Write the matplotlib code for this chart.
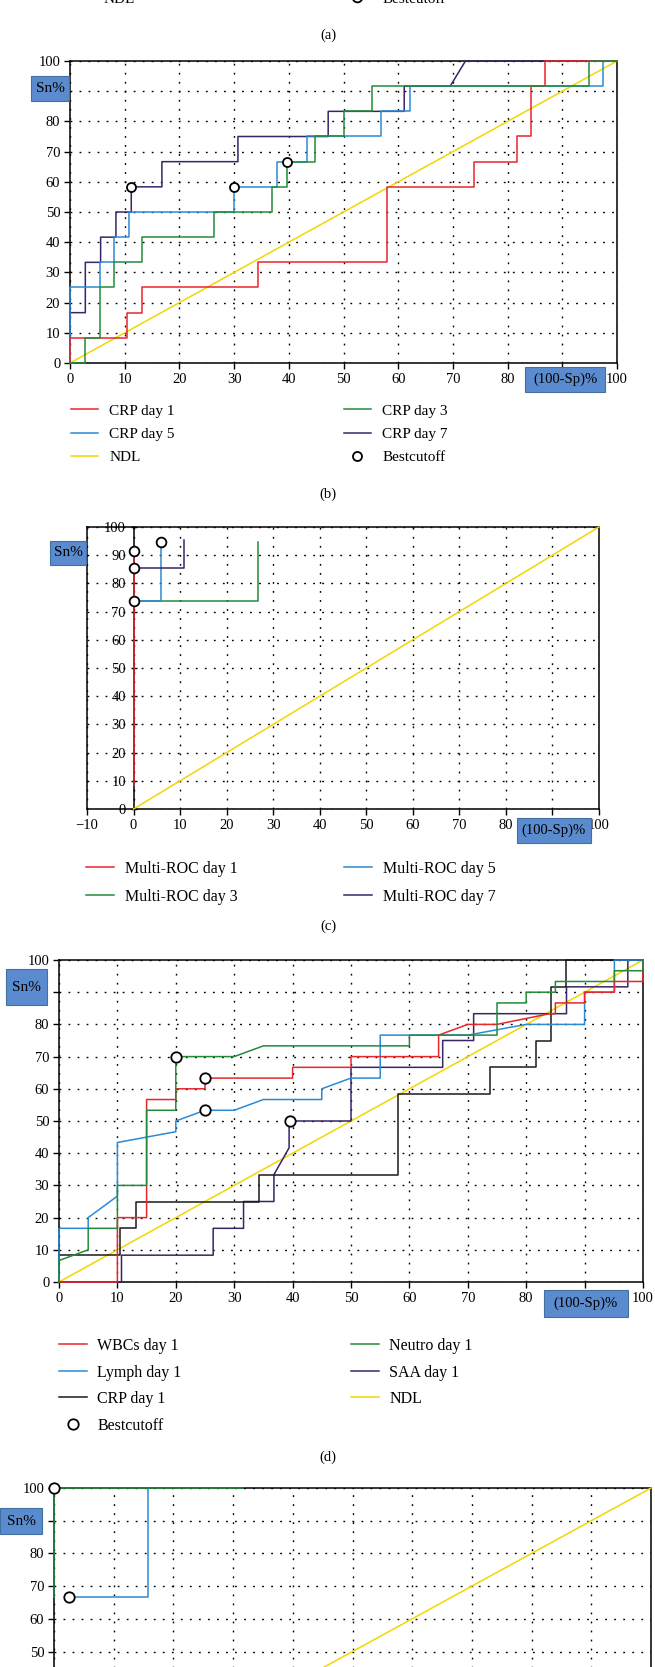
import matplotlib.pyplot as plt
from matplotlib.lines import Line2D
from matplotlib.patches import Rectangle

plt.rcParams['font.family'] = ['Liberation Serif', 'DejaVu Serif']
plt.rcParams['lines.scale_dashes'] = False

W, H = 655, 1667

RED = '#e8262b'
GREEN = '#238b3b'
BLUE = '#2b8ad6'
PURPLE = '#3a2468'
YELLOW = '#f2d700'
BLACK = '#1a1a1a'
BOX = '#5b8bcf'
BOX_EDGE = '#44709f'

# ROC points (100-Sp %, Sn %)
ndl_x = [0, 100]
ndl_y = [0, 100]

# (b) CRP by day
crp1_x = [0, 0, 10.5, 10.5, 13.2, 13.2, 34.3, 34.3, 58.0, 58.0, 73.8, 73.8, 81.7, 81.7, 84.3, 84.3, 86.9, 86.9, 100]
crp1_y = [0, 8.33, 8.33, 16.67, 16.67, 25, 25, 33.33, 33.33, 58.33, 58.33, 66.67, 66.67, 75, 75, 91.67, 91.67, 100, 100]
crp3_x = [0, 2.7, 2.7, 5.4, 5.4, 8.0, 8.0, 13.2, 13.2, 26.3, 26.3, 36.9, 36.9, 39.6, 39.6, 44.8, 44.8, 50.1, 50.1, 55.3, 55.3, 94.8, 94.8, 100]
crp3_y = [0, 0, 8.33, 8.33, 25, 25, 33.33, 33.33, 41.67, 41.67, 50, 50, 58.33, 58.33, 66.67, 66.67, 75, 75, 83.33, 83.33, 91.67, 91.67, 100, 100]
crp5_x = [0, 0, 5.4, 5.4, 8.0, 8.0, 10.8, 10.8, 29.9, 29.9, 37.9, 37.9, 43.3, 43.3, 56.8, 56.8, 62.2, 62.2, 97.4, 97.4, 100]
crp5_y = [0, 25, 25, 33.33, 33.33, 41.67, 41.67, 50, 50, 58.33, 58.33, 66.67, 66.67, 75, 75, 83.33, 83.33, 91.67, 91.67, 100, 100]
crp7_x = [0, 0, 2.8, 2.8, 5.6, 5.6, 8.4, 8.4, 11.2, 11.2, 16.8, 16.8, 30.7, 30.7, 47.2, 47.2, 61.1, 61.1, 69.5, 72.3, 100]
crp7_y = [0, 16.67, 16.67, 33.33, 33.33, 41.67, 41.67, 50, 50, 58.33, 58.33, 66.67, 66.67, 75, 75, 83.33, 83.33, 91.67, 91.67, 100, 100]
b_best_x = [11.2, 29.9, 39.6]
b_best_y = [58.33, 58.33, 66.67]

# (c) Multi-ROC by day
mroc1_x = [0, 0]
mroc1_y = [8.5, 91.5]
mroc3_x = [0, 26.7, 26.7]
mroc3_y = [73.7, 73.7, 94.7]
mroc5_x = [0, 5.9, 5.9]
mroc5_y = [73.7, 73.7, 94.7]
mroc7_x = [0, 10.9, 10.9]
mroc7_y = [85.5, 85.5, 95.3]
c_best_x = [0, 0, 0, 5.9]
c_best_y = [91.5, 85.5, 73.7, 94.7]

# (d) day 1 markers
wbc_x = [0, 10, 10, 15, 15, 20, 20, 25, 25, 40, 40, 50, 50, 65, 65, 70, 75, 84, 85, 85, 90, 90, 95.1, 95.1, 100, 100, 100]
wbc_y = [0, 0, 20, 20, 56.67, 56.67, 60, 60, 63.33, 63.33, 66.67, 66.67, 70, 70, 76.67, 80, 80, 83.33, 83.33, 86.67, 86.67, 90, 90, 93.33, 93.33, 96.67, 100]
neu_x = [0, 0, 5, 5, 10, 10, 15, 15, 20, 20, 30, 35, 60, 60, 75, 75, 80, 80, 85, 85, 95.1, 95.1, 100, 100]
neu_y = [0, 6.67, 10, 16.67, 16.67, 30, 30, 53.33, 53.33, 70, 70, 73.33, 73.33, 76.67, 76.67, 86.67, 86.67, 90, 90, 93.33, 93.33, 96.67, 96.67, 100]
lym_x = [0, 0, 5, 5, 10, 10, 20, 20, 25, 30, 35, 45, 45, 50, 55, 55, 70, 80, 90, 90, 95.1, 95.1, 100]
lym_y = [0, 16.67, 16.67, 20, 26.67, 43.33, 46.67, 50, 53.33, 53.33, 56.67, 56.67, 60, 63.33, 63.33, 76.67, 76.67, 80, 80, 90, 90, 100, 100]
saa_x = [0, 10.7, 10.7, 26.4, 26.4, 31.6, 31.6, 36.8, 36.8, 39.4, 39.4, 50, 50, 65.7, 65.7, 71, 71, 86.9, 86.9, 97.4, 97.4, 100]
saa_y = [0, 0, 8.33, 8.33, 16.67, 16.67, 25, 25, 33.33, 41.67, 50, 50, 66.67, 66.67, 75, 75, 83.33, 83.33, 91.67, 91.67, 100, 100]
d_best_x = [20, 25, 25, 39.5]
d_best_y = [70, 63.33, 53.33, 50]

# (e) only the top part is in view
e_green_x = [0, 0, 31.6]
e_green_y = [66.7, 100, 100]
e_blue_x = [2.5, 15.7, 15.7]
e_blue_y = [66.7, 66.7, 100]
e_best_x = [0, 2.5]
e_best_y = [100, 66.7]

fig = plt.figure(figsize=(W / 100, H / 100), dpi=100)


def fx(px):
    return px / W


def fy(py):
    return 1 - py / H


def add_axes(left, top, right, bottom):
    return fig.add_axes([fx(left), fy(bottom), (right - left) / W, (bottom - top) / H])


def setup(ax, xmin=0):
    ax.set_xlim(xmin, 100)
    ax.set_ylim(0, 100)
    ax.set_xticks(range(xmin, 101, 10))
    ax.set_yticks(range(0, 101, 10))
    ax.grid(True, color='black', linestyle=(0, (1.3, 5.2)), linewidth=1.0)
    ax.set_axisbelow(True)
    for s in ax.spines.values():
        s.set_linewidth(1.1)
    ax.tick_params(direction='out', length=4, width=1, labelsize=10.5, pad=3)


def curve(ax, x, y, color, label):
    return ax.plot(x, y, color=color, lw=1.1, label=label, zorder=3, clip_on=False)[0]


def best(ax, x, y, ms=7):
    return ax.plot(x, y, 'o', ms=ms, mfc='white', mec='black', mew=1.3,
                   label='Bestcutoff', zorder=4, clip_on=False)[0]


def legend_col(ax, handles, left, top, fs=11, spacing=0.6, pad=0.75):
    leg = ax.legend(handles=handles, loc='upper left', bbox_to_anchor=(fx(left), fy(top)),
                    bbox_transform=fig.transFigure, frameon=False, fontsize=fs,
                    borderpad=0, borderaxespad=0, handlelength=1.75,
                    handletextpad=pad, labelspacing=spacing, numpoints=1)
    ax.add_artist(leg)
    ax.legend_ = None


def blue_box(left, top, right, bottom, text, fs=11):
    fig.add_artist(Rectangle((fx(left), fy(bottom)), (right - left) / W, (bottom - top) / H,
                             transform=fig.transFigure, facecolor=BOX, edgecolor=BOX_EDGE,
                             lw=0.8, zorder=5))
    fig.text(fx((left + right) / 2), fy((top + bottom) / 2), text, ha='center',
             va='center', fontsize=fs, zorder=6)


# remnant of panel (a) legend at the very top
fig.legend(handles=[Line2D([], [], color=YELLOW, lw=1.1)], labels=['NDL'],
           loc='upper left', bbox_to_anchor=(fx(65), fy(-8)), frameon=False, fontsize=11,
           borderpad=0, borderaxespad=0, handlelength=1.75, handletextpad=0.75)
fig.legend(handles=[Line2D([], [], ls='none', marker='o', ms=7, mfc='white', mec='black', mew=1.3)],
           labels=['Bestcutoff'], loc='upper left', bbox_to_anchor=(fx(344), fy(-8)),
           frameon=False, fontsize=11, borderpad=0, borderaxespad=0, handlelength=1.75,
           handletextpad=0.75, numpoints=1)
fig.text(fx(328), fy(35), '(a)', ha='center', va='center', fontsize=10.5)

# ---- (b)
ax = add_axes(70, 61, 617, 363)
setup(ax)
n = curve(ax, ndl_x, ndl_y, YELLOW, 'NDL')
p7 = curve(ax, crp7_x, crp7_y, PURPLE, 'CRP day 7')
p5 = curve(ax, crp5_x, crp5_y, BLUE, 'CRP day 5')
p1 = curve(ax, crp1_x, crp1_y, RED, 'CRP day 1')
p3 = curve(ax, crp3_x, crp3_y, GREEN, 'CRP day 3')
bc = best(ax, b_best_x, b_best_y, ms=6.5)
legend_col(ax, [p1, p5, n], 71, 404, spacing=0.62)
legend_col(ax, [p3, p7, bc], 344, 404, spacing=0.62)
blue_box(31, 76, 69, 101, 'Sn%')
blue_box(525, 367, 605, 392, '(100-Sp)%', fs=10.5)
fig.text(fx(328), fy(494), '(b)', ha='center', va='center', fontsize=10.5)

# ---- (c)
ax = add_axes(87, 527, 599, 809)
setup(ax, xmin=-10)
ax.spines['left'].set_position(('data', 0))
ax.axvline(-10, color='black', lw=1.1, clip_on=False, zorder=2.5)
ax.tick_params(axis='y', direction='inout', length=5, pad=3)
curve(ax, ndl_x, ndl_y, YELLOW, 'NDL')
m3 = curve(ax, mroc3_x, mroc3_y, GREEN, 'Multi-ROC day 3')
m5 = curve(ax, mroc5_x, mroc5_y, BLUE, 'Multi-ROC day 5')
m7 = curve(ax, mroc7_x, mroc7_y, PURPLE, 'Multi-ROC day 7')
m1 = curve(ax, mroc1_x, mroc1_y, RED, 'Multi-ROC day 1')
best(ax, c_best_x, c_best_y, ms=7)
legend_col(ax, [m1, m3], 86, 861, fs=11.5, spacing=0.72, pad=0.7)
legend_col(ax, [m5, m7], 344, 861, fs=11.5, spacing=0.72, pad=0.7)
blue_box(50, 541, 86, 565, 'Sn%')
blue_box(517, 818, 591, 843, '(100-Sp)%', fs=10.5)
fig.text(fx(328), fy(926), '(c)', ha='center', va='center', fontsize=10.5)

# ---- (d)
ax = add_axes(59, 960, 643, 1282)
setup(ax)
n = curve(ax, ndl_x, ndl_y, YELLOW, 'NDL')
q4 = curve(ax, saa_x, saa_y, PURPLE, 'SAA day 1')
q5 = curve(ax, crp1_x, crp1_y, BLACK, 'CRP day 1')
q2 = curve(ax, lym_x, lym_y, BLUE, 'Lymph day 1')
q1 = curve(ax, wbc_x, wbc_y, RED, 'WBCs day 1')
q3 = curve(ax, neu_x, neu_y, GREEN, 'Neutro day 1')
bc = best(ax, d_best_x, d_best_y, ms=7.5)
legend_col(ax, [q1, q2, q5, bc], 59, 1338, fs=11.5, spacing=0.66, pad=0.65)
legend_col(ax, [q3, q4, n], 351, 1338, fs=11.5, spacing=0.66, pad=0.65)
blue_box(6, 969, 47, 1005, 'Sn%')
blue_box(544, 1290, 628, 1317, '(100-Sp)%', fs=10.5)
fig.text(fx(328), fy(1457), '(d)', ha='center', va='center', fontsize=10.5)

# ---- (e), cut off by the bottom of the image
ax = add_axes(54, 1488, 651, 1815)
setup(ax)
curve(ax, ndl_x, ndl_y, YELLOW, 'NDL')
curve(ax, e_blue_x, e_blue_y, BLUE, 'Lymph')
curve(ax, e_green_x, e_green_y, GREEN, 'Neutro')
best(ax, e_best_x, e_best_y, ms=7.5)
blue_box(0, 1508, 42, 1534, 'Sn%')

fig.savefig('out.png', dpi=100)
